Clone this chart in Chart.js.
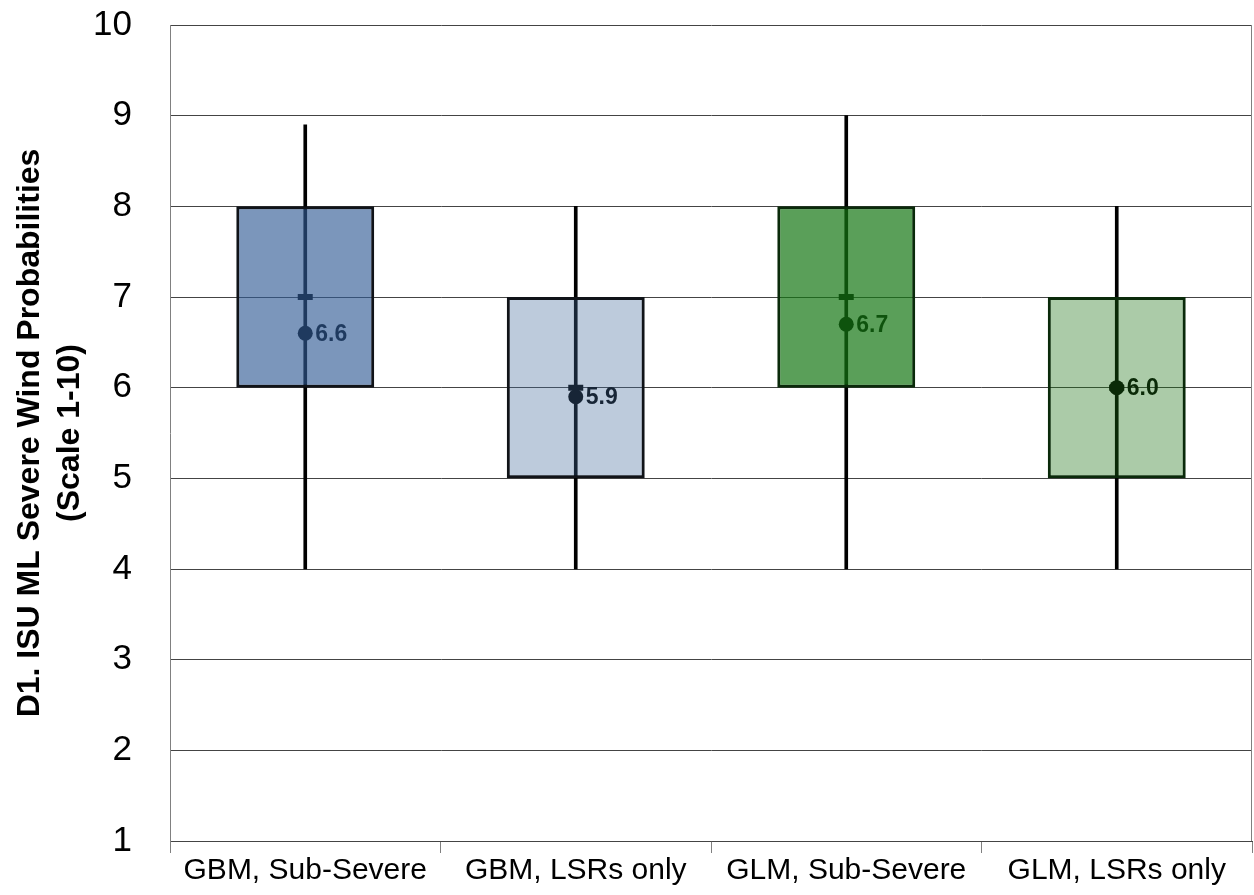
<!DOCTYPE html>
<html>
<head>
<meta charset="utf-8">
<script src="https://cdn.jsdelivr.net/npm/chart.js@4.4.1/dist/chart.umd.min.js"></script>
<style>
  body { margin: 0; background: #fff; }
  #wrap { width: 1254px; height: 895px; }
</style>
</head>
<body>
<div id="wrap"><canvas id="box-chart" width="1254" height="895"></canvas></div>
<script>
// --- Data ---
const categories = ['GBM, Sub-Severe', 'GBM, LSRs only', 'GLM, Sub-Severe', 'GLM, LSRs only'];
const minValues = [4, 4, 4, 4];
const q1Values = [6, 5, 6, 5];
const medianValues = [7, 6, 7, 6];
const q3Values = [8, 7, 8, 7];
const maxValues = [8.9, 8, 9, 8];
const meanValues = [6.6, 5.9, 6.7, 6.0];
const yTicks = [1, 2, 3, 4, 5, 6, 7, 8, 9, 10];

// --- Styles ---
const FONT = '"Liberation Sans", Arial, sans-serif';
// translucent fills: whiskers, medians and means sit behind the boxes
const boxFills = ['rgba(48, 90, 149, 0.64)', 'rgba(65, 105, 156, 0.35)', 'rgba(20, 118, 18, 0.70)', 'rgba(27, 113, 19, 0.37)'];
const boxBorders = ['#101318', '#101318', '#0a2a0a', '#0a2a0a'];

// mean value labels, drawn before the datasets so the boxes tint them
const meanLabels = {
    id: 'meanLabels',
    beforeDatasetsDraw(chart) {
        const meta = chart.getDatasetMeta(3);
        const ctx = chart.ctx;
        ctx.save();
        ctx.font = `bold 23px ${FONT}`;
        ctx.fillStyle = '#000';
        ctx.textBaseline = 'middle';
        meta.data.forEach((pt, i) => {
            ctx.fillText(meanValues[i].toFixed(1), pt.x + 10, pt.y + 1);
        });
        ctx.restore();
    }
};

// right edge of the plot frame
const plotFrame = {
    id: 'plotFrame',
    afterDraw(chart) {
        const { ctx, chartArea } = chart;
        ctx.save();
        ctx.strokeStyle = '#808080';
        ctx.lineWidth = 1;
        ctx.beginPath();
        ctx.moveTo(chartArea.right - 0.5, chartArea.top);
        ctx.lineTo(chartArea.right - 0.5, chartArea.bottom);
        ctx.stroke();
        ctx.restore();
    }
};

const ctx = document.getElementById('box-chart').getContext('2d');
new Chart(ctx, {
    data: {
        labels: categories,
        datasets: [
            {
                type: 'bar',
                label: 'Box',
                data: categories.map((c, i) => [q1Values[i], q3Values[i]]),
                backgroundColor: boxFills,
                borderColor: boxBorders,
                borderWidth: 3,
                borderSkipped: false,
                barPercentage: 0.51,
                categoryPercentage: 1,
                grouped: false,
                order: 0
            },
            {
                type: 'bar',
                label: 'Range',
                data: categories.map((c, i) => [minValues[i], maxValues[i]]),
                backgroundColor: '#000',
                barThickness: 3,
                grouped: false,
                order: 3
            },
            {
                type: 'line',
                label: 'Median',
                data: medianValues,
                showLine: false,
                pointStyle: 'line',
                pointRadius: 7.5,
                pointBorderWidth: 6,
                pointBorderColor: '#000',
                order: 2
            },
            {
                type: 'line',
                label: 'Mean',
                data: meanValues,
                showLine: false,
                pointStyle: 'circle',
                pointRadius: 7.5,
                pointBorderWidth: 0,
                pointBackgroundColor: '#000',
                order: 1
            }
        ]
    },
    options: {
        responsive: false,
        animation: false,
        layout: { autoPadding: false, padding: { top: 6, right: 2, left: 0, bottom: 0 } },
        plugins: { legend: { display: false }, tooltip: { enabled: false } },
        scales: {
            x: {
                offset: true,
                grid: { offset: true, drawOnChartArea: false, tickLength: 12, color: '#808080', lineWidth: 1 },
                border: { color: '#444', width: 1 },
                ticks: { color: '#000', font: { size: 30, family: FONT }, padding: 0, maxRotation: 0 },
                afterFit(scale) { scale.height = 54; }
            },
            y: {
                min: 1,
                max: 10,
                afterBuildTicks(scale) { scale.ticks = yTicks.map(v => ({ value: v })); },
                ticks: { color: '#000', font: { size: 35, family: FONT }, padding: 4 },
                grid: { color: '#444', lineWidth: 1, tickLength: 34, tickColor: 'rgba(0,0,0,0)' },
                border: { color: '#808080', width: 1 },
                title: {
                    display: true,
                    text: ['D1. ISU ML Severe Wind Probabilities', '(Scale 1-10)'],
                    color: '#000',
                    font: { size: 32, weight: 'bold', family: FONT, lineHeight: 1.25 },
                    padding: { top: 10, bottom: 0 }
                },
                afterFit(scale) { scale.width = 170; }
            }
        }
    },
    plugins: [meanLabels, plotFrame]
});
</script>
</body>
</html>
